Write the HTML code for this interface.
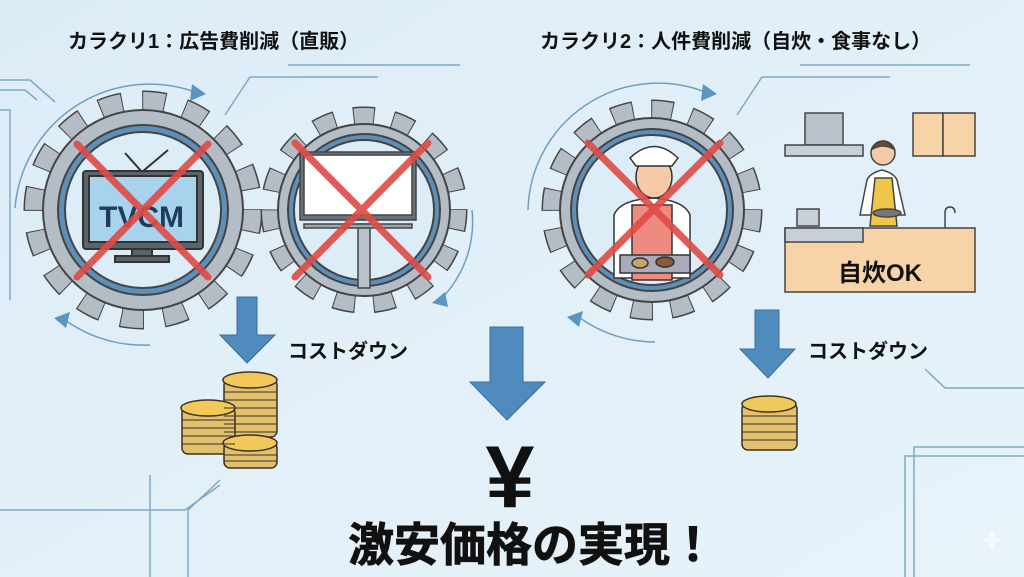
<!DOCTYPE html>
<html><head><meta charset="utf-8"><style>
html,body{margin:0;padding:0;width:1024px;height:577px;overflow:hidden;background:#e4f1f9}
svg{display:block}
text{font-family:"Liberation Sans","Noto Sans CJK JP",sans-serif;font-weight:bold;fill:#111}
</style></head><body>
<svg width="1024" height="577" viewBox="0 0 1024 577" xmlns="http://www.w3.org/2000/svg">
<defs>
<linearGradient id="bg" x1="0" y1="0" x2="1" y2="1"><stop offset="0" stop-color="#dcecf7"/><stop offset="1" stop-color="#e8f3fa"/></linearGradient>
</defs>
<rect width="1024" height="577" fill="url(#bg)"/>
<g fill="none" stroke="#7fa9c2" stroke-width="1.5">
<path d="M0 80 H30 L55 102"/><path d="M0 90 H25 L37 100"/>
<path d="M288 65 H460"/><path d="M225 115 L250 77 H378"/>
<path d="M800 65 H970"/><path d="M737 115 L762 77 H890"/>
<path d="M925 369 L945 388 H1024"/>
<path d="M905 577 V456 H1024"/><path d="M914 577 V447 H1024"/>
<path d="M150 577 V475"/><path d="M0 510 H185 L220 485"/><path d="M188 577 V510 L220 480"/>
<path d="M0 110 H10 V300"/>
</g>
<g fill="none" stroke="#6e9fc0" stroke-width="1.5">
<path d="M15 208 A135 135 0 0 1 195 92"/>
<path d="M65 320 A135 135 0 0 0 150 345"/>
<path d="M472 210 A110 110 0 0 1 440 300"/>
<path d="M528 210 A130 130 0 0 1 705 92"/>
<path d="M580 318 A130 130 0 0 0 655 342"/>
</g>
<g fill="#5b95c2">
<path d="M192 84 L206 94 L190 101 Z"/>
<path d="M54 318 L70 312 L66 328 Z"/>
<path d="M445 292 L432 303 L448 307 Z"/>
<path d="M703 84 L717 94 L701 101 Z"/>
<path d="M567 317 L583 311 L579 327 Z"/>
</g>
<!-- gear 1 -->
<circle cx="143" cy="210" r="108" fill="none" stroke="#444" stroke-width="23" stroke-dasharray="23 19.41" stroke-dashoffset="1"/>
<circle cx="143" cy="210" r="108" fill="none" stroke="#b4bcc5" stroke-width="20" stroke-dasharray="21 21.41"/>
<g stroke="#444" stroke-width="2">
<circle cx="143" cy="210" r="100" fill="#b4bcc5"/>
<circle cx="143" cy="210" r="85" fill="#5d8fb8"/>
<circle cx="143" cy="210" r="78" fill="#ddedf8"/>
</g>
<g stroke="#333" stroke-width="2">
<path d="M125 153 L142 172 L168 150" fill="none"/>
<rect x="83" y="171" width="120" height="78" rx="3" fill="#5b636b"/>
<rect x="89" y="176" width="108" height="66" fill="#a9d2ec"/>
<rect x="132" y="249" width="20" height="8" fill="#5b636b"/>
<rect x="115" y="256" width="54" height="6" fill="#5b636b"/>
</g>
<text x="99" y="227" font-size="30" style="fill:#1e3d5c">TVCM</text>
<g stroke="#e04a45" stroke-width="7" stroke-linecap="round" opacity=".9">
<path d="M77 144 L208 277"/><path d="M208 144 L77 277"/>
</g>
<!-- gear 2 -->
<circle cx="364" cy="210" r="93" fill="none" stroke="#444" stroke-width="21" stroke-dasharray="21 17.95" stroke-dashoffset="1"/>
<circle cx="364" cy="210" r="93" fill="none" stroke="#b4bcc5" stroke-width="18" stroke-dasharray="19 19.95"/>
<g stroke="#444" stroke-width="2">
<circle cx="364" cy="210" r="86" fill="#b4bcc5"/>
<circle cx="364" cy="210" r="76" fill="#5d8fb8"/>
<circle cx="364" cy="210" r="70" fill="#ddedf8"/>
</g>
<g stroke="#444" stroke-width="1.5">
<rect x="358" y="224" width="12" height="64" fill="#b9c1ca"/>
<rect x="300" y="152" width="116" height="68" fill="#6a7178"/>
<rect x="304" y="155" width="108" height="60" fill="#fff"/>
<rect x="304" y="224" width="108" height="4" fill="#9aa"/>
</g>
<g stroke="#e04a45" stroke-width="7" stroke-linecap="round" opacity=".9">
<path d="M295 143 L428 277"/><path d="M428 143 L295 277"/>
</g>
<!-- gear 3 -->
<circle cx="652" cy="210" r="100" fill="none" stroke="#444" stroke-width="21" stroke-dasharray="21.6 17.67" stroke-dashoffset="1"/>
<circle cx="652" cy="210" r="100" fill="none" stroke="#b4bcc5" stroke-width="18" stroke-dasharray="19.6 19.67"/>
<g stroke="#444" stroke-width="2">
<circle cx="652" cy="210" r="92" fill="#b4bcc5"/>
<circle cx="652" cy="210" r="81" fill="#5d8fb8"/>
<circle cx="652" cy="210" r="75" fill="#ddedf8"/>
</g>
<g stroke="#333" stroke-width="1.5">
<path d="M614 278 V215 Q620 200 652 198 Q684 200 690 215 V278 Z" fill="#fff"/>
<rect x="632" y="205" width="40" height="75" fill="#ee8b80"/>
<ellipse cx="654" cy="177" rx="18" ry="21" fill="#f6caa6"/>
<path d="M630 158 Q654 135 678 158 L672 166 H636 Z" fill="#fff"/>
<rect x="620" y="255" width="70" height="18" fill="#aab"/>
<ellipse cx="640" cy="263" rx="8" ry="5" fill="#c9a46a"/><ellipse cx="665" cy="262" rx="9" ry="5" fill="#8a5a3a"/>
</g>
<g stroke="#e04a45" stroke-width="7" stroke-linecap="round" opacity=".9">
<path d="M588 143 L720 275"/><path d="M720 143 L588 275"/>
</g>
<!-- kitchen -->
<g stroke="#444" stroke-width="1.5">
<rect x="805" y="113" width="38" height="32" fill="#b9c1ca"/>
<rect x="785" y="145" width="78" height="11" fill="#c8cfd6"/>
<rect x="913" y="113" width="30" height="43" fill="#f6d4a8"/>
<rect x="943" y="113" width="32" height="43" fill="#f6d4a8"/>
<path d="M867 180 Q870 173 882 170 Q894 173 897 180 L905 215 H860 Z" fill="#fff"/>
<path d="M875 178 H892 L897 226 H870 Z" fill="#f0c64a"/>
<circle cx="883" cy="153" r="12" fill="#f6caa6"/>
<path d="M871 150 Q883 132 895 150 Q883 142 871 150Z" fill="#6b4a33"/>
<ellipse cx="887" cy="213" rx="14" ry="4" fill="#777"/>
<rect x="797" y="209" width="22" height="17" fill="#c8cfd6"/>
<rect x="785" y="228" width="190" height="64" fill="#f6d4a8"/>
<rect x="785" y="228" width="78" height="14" fill="#c8cfd6"/>
<path d="M945 228 V213 Q945 207 950 207 Q955 207 955 213" fill="none"/>
</g>
<text x="880" y="281" font-size="24" text-anchor="middle">自炊OK</text>
<g fill="#4f8bbd" stroke="#3a6f9a" stroke-width="1">
<path d="M237 297 H257 V335 H275 L247 363 L220 335 H237 Z"/>
<path d="M490 327 H523 V382 H545 L507 420 L470 382 H490 Z"/>
<path d="M755 310 H779 V349 H795 L768 378 L740 349 H755 Z"/>
</g>
<text x="288" y="358" font-size="20">コストダウン</text>
<text x="808" y="358" font-size="20">コストダウン</text>
<g stroke="#3a3320" stroke-width="1.5" fill="#e3c070">
<rect x="224" y="379" width="53" height="58" rx="6"/>
<ellipse cx="250" cy="380" rx="27" ry="8" fill="#f2c85a"/>
<rect x="182" y="407" width="53" height="47" rx="6"/>
<ellipse cx="208" cy="408" rx="27" ry="8" fill="#f2c85a"/>
<rect x="224" y="442" width="53" height="26" rx="6"/>
<ellipse cx="250" cy="443" rx="27" ry="8" fill="#f2c85a"/>
<rect x="742" y="403" width="55" height="47" rx="6"/>
<ellipse cx="769" cy="404" rx="27" ry="8" fill="#f2c85a"/>
</g>
<g stroke="#3a3320" stroke-width="1" fill="none">
<path d="M224 392 H277 M224 400 H277 M224 408 H277 M224 416 H277 M224 424 H277 M224 432 H277"/>
<path d="M182 420 H235 M182 428 H235 M182 436 H235 M182 444 H235"/>
<path d="M224 455 H277 M224 461 H277"/>
<path d="M742 416 H797 M742 424 H797 M742 432 H797 M742 440 H797"/>
</g>
<text x="510" y="507" font-size="88" text-anchor="middle" style="font-family:'Liberation Sans',sans-serif">¥</text>
<text x="532" y="561" font-size="46" text-anchor="middle" stroke="#111" stroke-width="0.8">激安価格の実現！</text>
<text x="68" y="48" font-size="20">カラクリ1：広告費削減（直販）</text>
<text x="540" y="48" font-size="20">カラクリ2：人件費削減（自炊・食事なし）</text>
<path d="M992 527 Q994 538 1004 540 Q994 542 992 553 Q990 542 980 540 Q990 538 992 527Z" fill="#f3f8fc"/>
</svg>
</body></html>
